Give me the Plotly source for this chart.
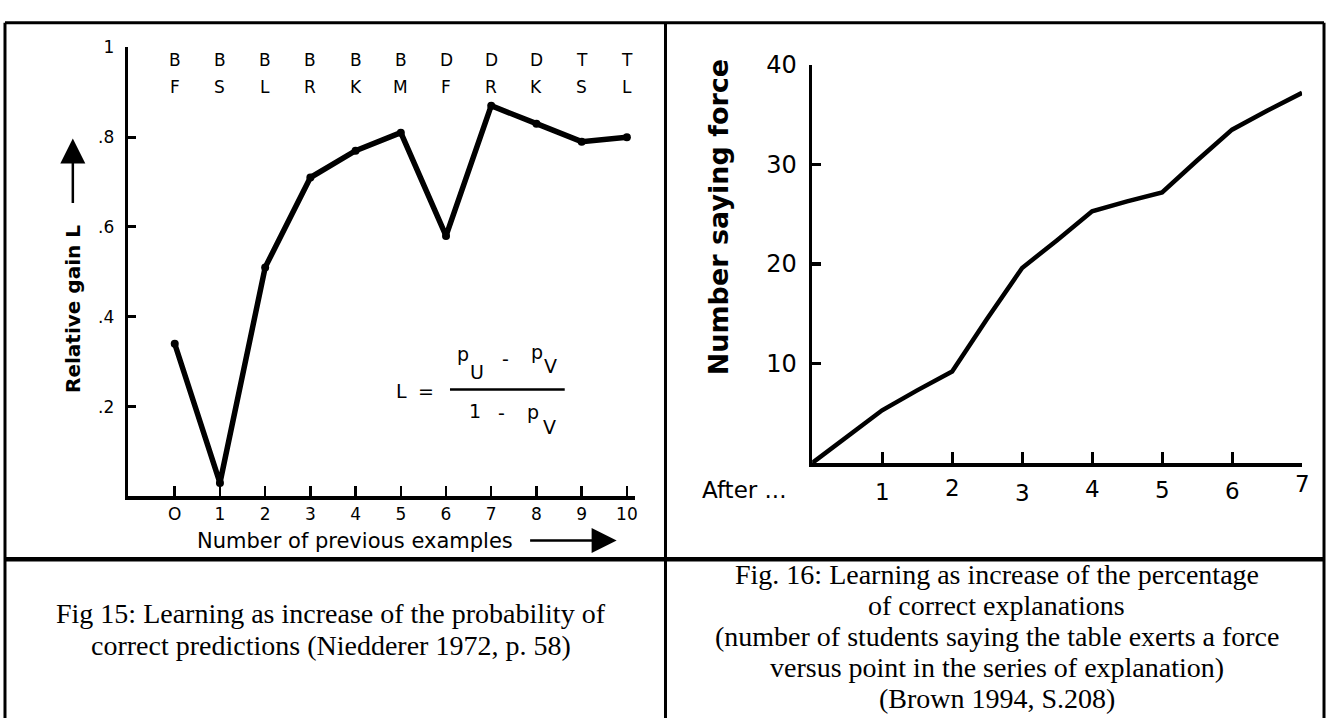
import plotly.graph_objects as go

W, H = 1331, 718

# ---------------- Fig 15 data ----------------
examples = list(range(11))
gain = [0.34, 0.03, 0.51, 0.71, 0.77, 0.81, 0.58, 0.87, 0.83, 0.79, 0.80]
codes_top = ["B", "B", "B", "B", "B", "B", "D", "D", "D", "T", "T"]
codes_bottom = ["F", "S", "L", "R", "K", "M", "F", "R", "K", "S", "L"]
left_ytick_vals = [0.2, 0.4, 0.6, 0.8, 1.0]
left_ytick_text = [".2", ".4", ".6", ".8", "1"]
left_xtick_text = ["O", "1", "2", "3", "4", "5", "6", "7", "8", "9", "10"]

# ---------------- Fig 16 data ----------------
points = [0, 0.5, 1, 1.5, 2, 2.5, 3, 3.5, 4, 4.5, 5, 5.5, 6, 6.5, 7]
force = [0, 2.7, 5.3, 7.3, 9.2, 14.5, 19.6, 22.4, 25.3, 26.3, 27.2, 30.4, 33.5, 35.4, 37.2]
right_xtick_vals = [1, 2, 3, 4, 5, 6, 7]
right_xtick_text = ["1", "2", "3", "4", "5", "6", "7"]
right_xtick_jitter = [3, -2, 4, -1, 0, 1, -6]   # hand-lettered label offsets (px)
right_ytick_vals = [10, 20, 30, 40]
right_ytick_text = ["10", "20", "30", "40"]

caption15 = ["Fig 15: Learning as increase of the probability of",
             "correct predictions (Niedderer 1972, p. 58)"]
caption16 = ["Fig. 16: Learning as increase of the percentage",
             "of correct explanations",
             "(number of students saying the table exerts a force",
             "versus point in the series of explanation)",
             "(Brown 1994, S.208)"]


def px(x):
    return x / W


def py(y):
    return 1 - y / H


SANS = "DejaVu Sans"
SERIF = "Liberation Serif"

fig = go.Figure()

fig.add_trace(go.Scatter(
    x=examples, y=gain, mode="lines+markers",
    line=dict(color="black", width=5.5),
    marker=dict(color="black", size=8),
    xaxis="x", yaxis="y", cliponaxis=False, showlegend=False,
    hoverinfo="skip",
))

fig.add_trace(go.Scatter(
    x=points, y=force, mode="lines",
    line=dict(color="black", width=4.5),
    xaxis="x2", yaxis="y2", cliponaxis=False, showlegend=False,
    hoverinfo="skip",
))

axis_common = dict(showgrid=False, zeroline=False, showline=True,
                   linecolor="black", ticks="inside", tickcolor="black",
                   fixedrange=True)

fig.update_layout(
    width=W, height=H,
    margin=dict(l=0, r=0, t=0, b=0),
    paper_bgcolor="white", plot_bgcolor="white",
    xaxis=dict(domain=[px(128), px(636)], range=[-1.04, 10.17],
               tickvals=examples, ticktext=left_xtick_text,
               ticklen=10, tickwidth=2.5, linewidth=3.5,
               tickfont=dict(family=SANS, size=17, color="black"),
               anchor="y", **axis_common),
    yaxis=dict(domain=[py(492), py(34)], range=[0, 1.0],
               tickvals=left_ytick_vals, ticktext=left_ytick_text,
               ticklen=8, tickwidth=3, linewidth=3,
               ticklabelstandoff=7,
               tickfont=dict(family=SANS, size=17, color="black"),
               anchor="x", **axis_common),
    xaxis2=dict(domain=[px(814), px(1305)], range=[0, 7],
                tickvals=right_xtick_vals, ticktext=[""] * len(right_xtick_vals),
                ticklen=11, tickwidth=3, linewidth=3.5,
                anchor="y2", **axis_common),
    yaxis2=dict(domain=[py(458), py(52)], range=[0, 40],
                tickvals=right_ytick_vals, ticktext=right_ytick_text,
                ticklen=9, tickwidth=3.5, linewidth=3.5,
                ticklabelstandoff=7,
                tickfont=dict(family=SANS, size=24, color="black"),
                anchor="x2", **axis_common),
)

ann = []

def txt(x, y, s, size=15, family=SANS, angle=0, xref="paper", **kw):
    d = dict(x=x, y=y, xref=xref, yref="paper", text=s, showarrow=False,
             font=dict(family=family, size=size, color="black"),
             xanchor="center", yanchor="middle", textangle=angle)
    d.update(kw)
    ann.append(d)

# example codes above the curve
for i, (a, b) in enumerate(zip(codes_top, codes_bottom)):
    txt(examples[i], py(47), a, size=17, xref="x")
    txt(examples[i], py(74), b, size=17, xref="x")

# axis titles
txt(px(73), py(301), "<b>Relative gain L</b>", size=20, angle=-90)
ann.append(dict(x=px(73), y=py(127), xref="paper", yref="paper", text="",
                showarrow=True, ax=0, ay=66, arrowhead=2, arrowsize=2,
                arrowwidth=2.5, arrowcolor="black"))
txt(px(356), py(537), "Number of previous examples", size=21)
ann.append(dict(x=px(618), y=py(537), xref="paper", yref="paper", text="",
                showarrow=True, ax=-88, ay=0, arrowhead=2, arrowsize=2,
                arrowwidth=2.5, arrowcolor="black"))

# formula
FS = 19
txt(px(402), py(385), "L", size=FS)
txt(px(427), py(384), "=", size=FS)
txt(px(464), py(347), "p", size=FS)
txt(px(478), py(365), "U", size=FS)
txt(px(507), py(352), "-", size=FS)
txt(px(538), py(345), "p", size=FS)
txt(px(552), py(359), "V", size=FS)
txt(px(476), py(405), "1", size=FS)
txt(px(503), py(407), "-", size=FS)
txt(px(534), py(406), "p", size=FS)
txt(px(551), py(421), "V", size=FS)

# right chart titles / labels
txt(px(721), py(207), "<b>Number saying force</b>", size=27, angle=-90)
txt(px(746), py(485), "After ...", size=23)
for v, t, j in zip(right_xtick_vals, right_xtick_text, right_xtick_jitter):
    txt(v, py(485 + j), t, size=23, xref="x2")

# captions
for k, line in enumerate(caption15):
    txt(px(332), py(611 + 33 * k), line, size=28, family=SERIF)
for k, line in enumerate(caption16):
    txt(px(999), py(572 + 31.5 * k), line, size=28, family=SERIF)

fig.update_layout(annotations=ann)

# table borders
shapes = []
def seg(x0, y0, x1, y1, w):
    shapes.append(dict(type="line", xref="paper", yref="paper",
                       x0=px(x0), y0=py(y0), x1=px(x1), y1=py(y1),
                       line=dict(color="black", width=w)))

seg(5, 9, 1327, 9, 3)
seg(5, 9, 5, 720, 3)
seg(1327, 9, 1327, 720, 3)
seg(667, 9, 667, 720, 3)
seg(5, 556, 1327, 556, 4.5)
# fraction bar of the formula
seg(451, 383, 566, 383, 2.5)

fig.update_layout(shapes=shapes)

fig.write_html("out.html",
               config={"displayModeBar": False, "staticPlot": True},
               post_script="document.body.style.margin='0';")
